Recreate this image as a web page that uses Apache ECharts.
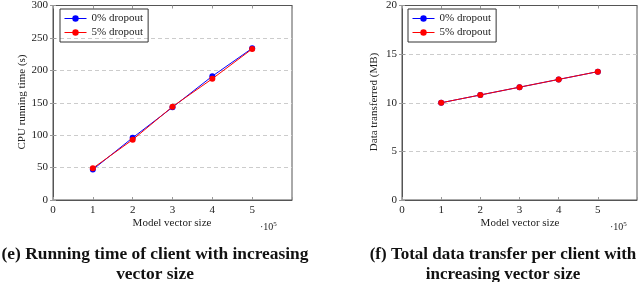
<!DOCTYPE html>
<html><head><meta charset="utf-8">
<script src="https://cdn.jsdelivr.net/npm/echarts@6/dist/echarts.min.js"></script>
<style>html,body{margin:0;padding:0;background:#fff}#c{width:640px;height:282px}</style>
</head><body><div id="c"></div>
<script>
const xValues = [1, 2, 3, 4, 5];
const cpu0 = [47, 96, 143, 191, 234];
const cpu5 = [49, 93, 144, 187, 233];
const data0 = [10.0, 10.8, 11.6, 12.4, 13.2];
const data5 = [10.0, 10.8, 11.6, 12.4, 13.2];
const seriesNames = ['0% dropout', '5% dropout'];
const xTitle = 'Model vector size';
const yTitles = ['CPU running time (s)', 'Data transferred (MB)'];
const captions = [['(e) Running time of client with increasing', 'vector size'],
                  ['(f) Total data transfer per client with', 'increasing vector size']];

const F = 'Liberation Serif';
const chart = echarts.init(document.getElementById('c'));
const pair = (ys) => xValues.map((x, i) => [x, ys[i]]);
const grids = [{left: 53, top: 4, width: 239, height: 196}, {left: 402, top: 4, width: 237, height: 196}];
const tickStyle = {inside:true, length:3, lineStyle:{color:'#999'}};
function xAx(i, pos){const top = pos==='top'; return {type:'value', gridIndex:i, position:pos, min:0, max:6, interval:1,
  axisLine:{show:true, onZero:false, lineStyle:{color:'#555', width:1}},
  axisTick:tickStyle,
  axisLabel:{show:!top, color:'#222', fontFamily:F, fontSize:11, margin:5, formatter:v=> v===6?'':String(v)},
  splitLine:{show:false}};}
function yAx(i, max, itv, pos){const right = pos==='right'; return {type:'value', gridIndex:i, position:pos, min:0, max:max, interval:itv,
  axisLine:{show:true, lineStyle:{color:'#555', width:1}},
  axisTick:tickStyle,
  axisLabel:{show:!right, color:'#222', fontFamily:F, fontSize:11, margin:5},
  splitLine:{show:!right, lineStyle:{color:'#ccc', type:[4,3], width:1}}};}
function ser(name, data, color, i){return {type:'line', name:name, xAxisIndex:i, yAxisIndex:i, data:pair(data),
  symbol:'circle', symbolSize:6, itemStyle:{color:color}, lineStyle:{color:color, width:1}, z: color==='#ff0000'?3:2};}
function legend(left){return {left:left, top:9, orient:'vertical', data:seriesNames, borderColor:'#333', borderWidth:1,
  padding:[4,5,4,4], itemGap:3, itemWidth:22, itemHeight:8, lineStyle:{width:1, color:'inherit'},
  textStyle:{fontFamily:F, fontSize:11, color:'#222'}};}
const graphics = [];
[[172, 0], [520, 1]].forEach(([cx, i]) => {
  graphics.push({type:'text', x:cx, y:223, style:{text:xTitle, font:'11px '+F, fill:'#222', textAlign:'center', textVerticalAlign:'middle'}});
  graphics.push({type:'text', x: i===0?260:610, y:221, style:{text:'·10{s|5}', font:'10px '+F, fill:'#222',
    rich:{s:{fontSize:7, verticalAlign:'top', padding:[0,0,6,0], fontFamily:F}}}});
});
graphics.push({type:'text', x:22, y:102, rotation:Math.PI/2, style:{text:yTitles[0], font:'11px '+F, fill:'#222', textAlign:'center', textVerticalAlign:'middle'}});
graphics.push({type:'text', x:374, y:102, rotation:Math.PI/2, style:{text:yTitles[1], font:'11px '+F, fill:'#222', textAlign:'center', textVerticalAlign:'middle'}});
[[155, 0, 17.4], [503, 1, 17]].forEach(([cx, i, fs]) => {
  captions[i].forEach((t, k) => graphics.push({type:'text', x:cx, y:255 + k*19.5, style:{text:t, font:'bold '+fs+'px '+F, fill:'#111', textAlign:'center', textVerticalAlign:'middle'}}));
});
chart.setOption({
  animation:false,
  grid: grids.map(g => Object.assign({show:true, borderColor:'#555', borderWidth:1, backgroundColor:'transparent'}, g)),
  xAxis:[xAx(0,'bottom'), xAx(1,'bottom'), xAx(0,'top'), xAx(1,'top')],
  yAxis:[yAx(0,300,50,'left'), yAx(1,20,5,'left'), yAx(0,300,50,'right'), yAx(1,20,5,'right')],
  legend:[legend(60), legend(408)],
  series:[ser(seriesNames[0], cpu0, '#0000ff', 0), ser(seriesNames[1], cpu5, '#ff0000', 0),
          ser(seriesNames[0], data0, '#0000ff', 1), ser(seriesNames[1], data5, '#ff0000', 1)],
  graphic: graphics
});
</script></body></html>
